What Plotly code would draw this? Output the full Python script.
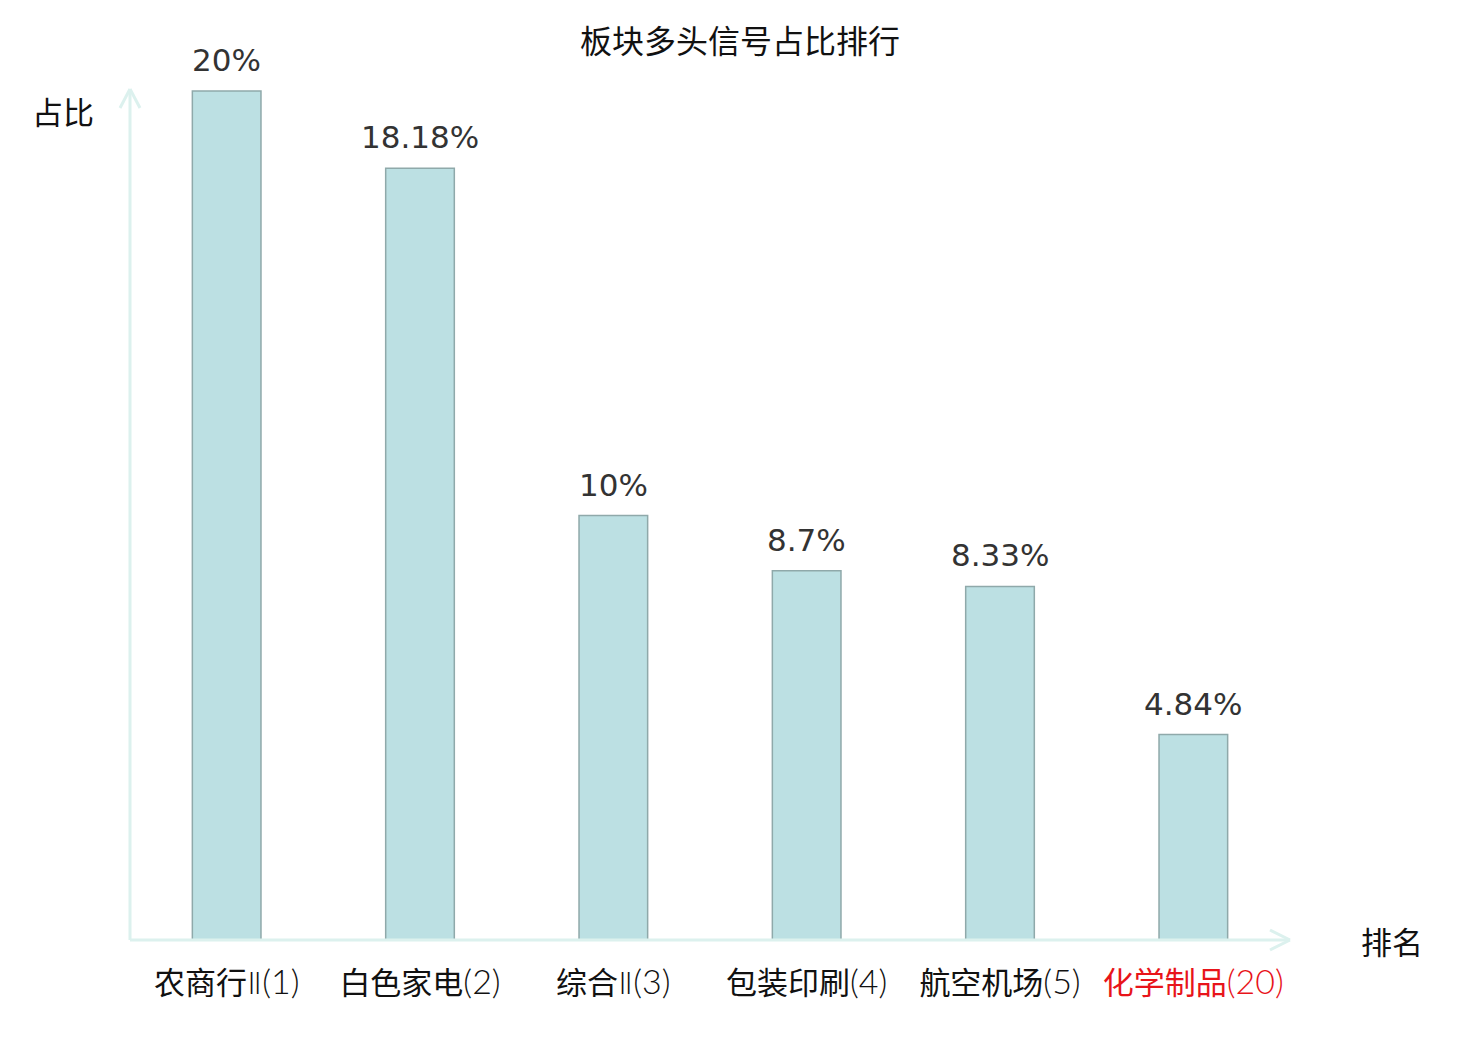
import plotly.graph_objects as go

# data
sectors = ["农商行", "白色家电", "综合", "包装印刷", "航空机场", "化学制品"]
sector_suffix = ["Ⅱ", "", "Ⅱ", "", "", ""]
ranks = [1, 2, 3, 4, 5, 20]
share_pct = [20, 18.18, 10, 8.7, 8.33, 4.84]
share_text = ["20%", "18.18%", "10%", "8.7%", "8.33%", "4.84%"]
highlight = "化学制品"

W, H = 1480, 1040
OFF = 8  # page body margin in the browser
M_L, M_R, M_T, M_B = 130 - OFF, 190 + OFF, 89 - OFF, 100 + OFF
plot_w = W - M_L - M_R
plot_h = H - M_T - M_B

axis_col = "#dcf1ee"
cjk = "Noto Sans CJK SC"
thin = "font-family:Lato;font-weight:300;font-size:34px"

tick_text = []
for name, suf, r in zip(sectors, sector_suffix, ranks):
    label = name
    if suf:
        label += f'<span style="font-family:DejaVu Sans;font-weight:200">{suf}</span>'
    label += f'<span style="{thin}">({r})</span>'
    if name == highlight:
        label = f'<span style="color:#e8141a">{label}</span>'
    tick_text.append(label)

fig = go.Figure()
fig.add_trace(go.Bar(
    x=sectors,
    y=share_pct,
    width=0.355,
    marker=dict(color="#bce0e3", line=dict(color="#8fa9aa", width=1.5)),
    hoverinfo="skip",
))

# value labels above bars
for name, v, t in zip(sectors, share_pct, share_text):
    fig.add_annotation(
        x=name, y=v, text=t, showarrow=False,
        xanchor="center", yanchor="bottom", yshift=11,
        font=dict(family="DejaVu Sans", size=31, color="#333333"),
    )

# axis lines with open arrowheads (pixel offsets converted to paper units)
px_x = 1 / plot_w
px_y = 1 / plot_h
line = dict(color=axis_col, width=3)
shapes = [
    dict(type="line", xref="paper", yref="paper", x0=0, y0=0, x1=0, y1=1, line=line),
    dict(type="line", xref="paper", yref="paper", x0=0, y0=1, x1=-10 * px_x, y1=1 - 19 * px_y, line=line),
    dict(type="line", xref="paper", yref="paper", x0=0, y0=1, x1=10 * px_x, y1=1 - 19 * px_y, line=line),
    dict(type="line", xref="paper", yref="paper", x0=0, y0=0, x1=1, y1=0, line=line),
    dict(type="line", xref="paper", yref="paper", x0=1, y0=0, x1=1 - 20 * px_x, y1=10 * px_y, line=line),
    dict(type="line", xref="paper", yref="paper", x0=1, y0=0, x1=1 - 20 * px_x, y1=-10 * px_y, line=line),
]

fig.add_annotation(
    text="占比", xref="paper", yref="paper", x=(63 - 130) * px_x, y=(940 - 110) * px_y,
    showarrow=False, xanchor="center", yanchor="middle",
    font=dict(family=cjk, size=31, color="#111111"),
)
fig.add_annotation(
    text="排名", xref="paper", yref="paper", x=(1392 - 130) * px_x, y=0,
    showarrow=False, xanchor="center", yanchor="middle",
    font=dict(family=cjk, size=31, color="#111111"),
)

fig.update_layout(
    width=W, height=H,
    margin=dict(l=M_L, r=M_R, t=M_T, b=M_B),
    paper_bgcolor="white", plot_bgcolor="white",
    showlegend=False,
    shapes=shapes,
    title=dict(
        text="板块多头信号占比排行", x=(740 - OFF) / W, xanchor="center",
        y=1 - (42 - OFF) / H, yanchor="middle", yref="container",
        font=dict(family=cjk, size=32, color="#111111"),
    ),
    xaxis=dict(
        type="category", range=[-0.5, 5.5],
        tickmode="array", tickvals=sectors, ticktext=tick_text,
        tickfont=dict(family=cjk, size=31, color="#111111"),
        showgrid=False, zeroline=False, showline=False, ticks="",
        ticklabelstandoff=22,
        fixedrange=True,
    ),
    yaxis=dict(
        range=[0, plot_h / (849 / 20)],
        showticklabels=False, showgrid=False, zeroline=False, showline=False,
        fixedrange=True,
    ),
)

fig.write_html("out.html")
